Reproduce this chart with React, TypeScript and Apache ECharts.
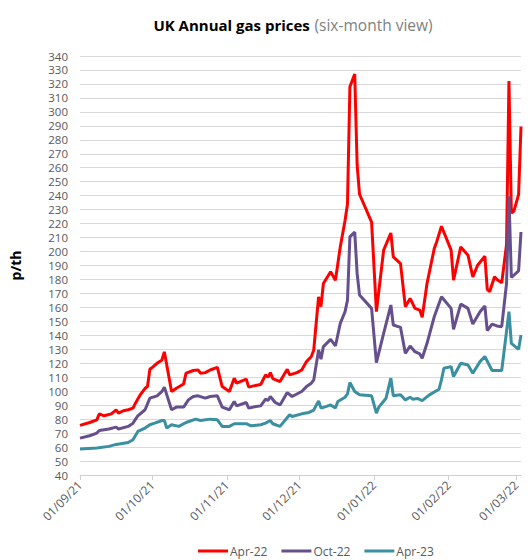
import React, { useEffect, useRef } from "react";
import * as echarts from "echarts";

const seriesNames = ["Apr-22", "Oct-22", "Apr-23"];

const aprDates = [
  "2021-09-01","2021-09-05","2021-09-08","2021-09-09","2021-09-11","2021-09-14","2021-09-16","2021-09-17","2021-09-19","2021-09-21",
  "2021-09-23","2021-09-24","2021-09-26","2021-09-28","2021-09-29","2021-09-30","2021-10-01","2021-10-03","2021-10-05","2021-10-06",
  "2021-10-09","2021-10-11","2021-10-14","2021-10-15","2021-10-18","2021-10-20","2021-10-21","2021-10-23","2021-10-25","2021-10-28",
  "2021-10-30","2021-11-02","2021-11-04","2021-11-05","2021-11-09","2021-11-10","2021-11-12","2021-11-15","2021-11-17","2021-11-18",
  "2021-11-19","2021-11-20","2021-11-23","2021-11-26","2021-11-27","2021-11-30","2021-12-02","2021-12-04","2021-12-06","2021-12-07",
  "2021-12-09","2021-12-10","2021-12-11","2021-12-14","2021-12-16","2021-12-18","2021-12-20","2021-12-21","2021-12-22","2021-12-24",
  "2021-12-25","2021-12-26","2021-12-31","2022-01-02","2022-01-05","2022-01-08","2022-01-09","2022-01-12","2022-01-14","2022-01-16",
  "2022-01-18","2022-01-20","2022-01-21","2022-01-23","2022-01-26","2022-01-27","2022-01-29","2022-02-02","2022-02-03","2022-02-06",
  "2022-02-09","2022-02-11","2022-02-13","2022-02-16","2022-02-17","2022-02-18","2022-02-20","2022-02-21","2022-02-23","2022-02-25",
  "2022-02-26","2022-02-27","2022-02-28","2022-03-02","2022-03-03",
];
const aprValues = [
  75.5,77.6,79.5,83.8,82.4,83.8,86.7,84.3,86,86.7,
  87.9,91.4,97.4,102.1,103.3,115.7,117.1,120,122.4,128.2,
  99.8,102.1,105.2,112.9,114.8,115.2,112.9,113.3,115.2,117.1,
  103.3,99.8,109.3,105.7,108.6,102.9,103.8,104.8,111.7,110,
  113.3,109,106.9,115.7,111.7,113.3,115.2,121.2,124.8,129.5,
  167.6,160.5,177.1,185.5,179.5,203.3,222.4,234,318,327,
  262,241,221,157,201,213.3,196.2,191.4,160.5,166.4,
  159.3,158.1,152.9,177.1,202.1,206.9,218.1,201,179.5,203.3,
  197.4,181.9,190.2,196.7,172.9,171.2,181.9,180,177.6,205,
  322,227.6,228.8,240.7,289.5,
];

const octDates = [
  "2021-09-01","2021-09-05","2021-09-08","2021-09-09","2021-09-13","2021-09-16","2021-09-17","2021-09-21","2021-09-23","2021-09-25",
  "2021-09-28","2021-09-30","2021-10-03","2021-10-05","2021-10-06","2021-10-09","2021-10-11","2021-10-14","2021-10-16","2021-10-18",
  "2021-10-20","2021-10-23","2021-10-25","2021-10-28","2021-10-30","2021-11-02","2021-11-04","2021-11-05","2021-11-09","2021-11-10",
  "2021-11-13","2021-11-15","2021-11-17","2021-11-18","2021-11-19","2021-11-21","2021-11-23","2021-11-26","2021-11-28","2021-12-02",
  "2021-12-04","2021-12-06","2021-12-07","2021-12-09","2021-12-10","2021-12-11","2021-12-14","2021-12-16","2021-12-18","2021-12-20",
  "2021-12-21","2021-12-22","2021-12-24","2021-12-25","2021-12-26","2021-12-31","2022-01-02","2022-01-05","2022-01-08","2022-01-09",
  "2022-01-12","2022-01-14","2022-01-16","2022-01-18","2022-01-20","2022-01-21","2022-01-23","2022-01-26","2022-01-29","2022-02-02",
  "2022-02-03","2022-02-06","2022-02-09","2022-02-11","2022-02-14","2022-02-16","2022-02-17","2022-02-19","2022-02-21","2022-02-23",
  "2022-02-25","2022-02-26","2022-02-27","2022-03-02","2022-03-03",
];
const octValues = [
  66.4,68.1,70,71.9,72.9,74.3,72.9,74.8,77.1,82.4,
  86.7,95,96.7,99.8,102.9,86.7,88.6,88.6,93.8,96.2,
  96.7,95,96.2,96.7,88.6,86.7,92.6,89.5,91.9,87.9,
  89,89.5,94.3,93.3,96.2,91.9,90.2,99,96.2,99.8,
  103.3,105.7,108.1,129.5,122.9,131.9,137.1,132.4,148.6,157,
  165.2,210.5,214,184.3,168.8,159.3,120.5,141.4,161.7,147.4,
  145.7,127.1,132.4,128.3,126.7,123.6,134.3,153.3,167.6,159.3,
  144.3,162.4,159.3,148.1,156.9,161,143.3,148.1,146.7,146.2,
  177.1,239.5,181.4,186.2,214,
];

const apr23Dates = [
  "2021-09-01","2021-09-08","2021-09-13","2021-09-16","2021-09-21","2021-09-23","2021-09-25","2021-09-28","2021-09-30","2021-10-02",
  "2021-10-05","2021-10-06","2021-10-07","2021-10-09","2021-10-12","2021-10-15","2021-10-19","2021-10-21","2021-10-25","2021-10-28",
  "2021-10-30","2021-11-02","2021-11-04","2021-11-09","2021-11-11","2021-11-15","2021-11-17","2021-11-19","2021-11-20","2021-11-23",
  "2021-11-27","2021-11-28","2021-12-02","2021-12-05","2021-12-07","2021-12-09","2021-12-10","2021-12-12","2021-12-14","2021-12-16",
  "2021-12-17","2021-12-20","2021-12-21","2021-12-22","2021-12-24","2021-12-26","2021-12-31","2022-01-02","2022-01-03","2022-01-06",
  "2022-01-08","2022-01-09","2022-01-12","2022-01-14","2022-01-16","2022-01-17","2022-01-19","2022-01-21","2022-01-24","2022-01-28",
  "2022-01-29","2022-01-30","2022-02-02","2022-02-03","2022-02-06","2022-02-09","2022-02-11","2022-02-14","2022-02-16","2022-02-19",
  "2022-02-23","2022-02-26","2022-02-27","2022-03-02","2022-03-03",
];
const apr23Values = [
  58.6,59.3,60.5,61.9,63.3,65.2,71.2,73.6,76,77.1,
  79,79,73.6,76,74.8,77.6,80,79,80,79.5,
  74.8,74.8,76.7,76.7,75.2,76,77.1,79,76.7,74.8,
  83.1,81.9,83.8,84.8,86.5,93,87.9,89,90.2,87.9,
  92.6,95.7,98.1,106.2,99.8,97.4,96.7,84.3,88.6,95,
  109.3,96.7,97.4,93.8,95.7,94.3,94.8,93.3,97.4,101.4,
  108.1,116.4,117.6,110.5,120,118.8,112.9,121.2,124.8,114.8,
  114.8,157,134.3,130,140.2,
];

const yTicksMin = 40;
const yTicksMax = 340;
const yTickStep = 10;

const colors = ["#ff0000", "#664f8d", "#3a8fa0"];
const FONT = "'Open Sans', 'Noto Sans', sans-serif";

function pad(n: number) {
  return n < 10 ? "0" + n : String(n);
}

export default function App() {
  const ref = useRef<HTMLDivElement>(null);
  useEffect(() => {
    if (!ref.current) return;
    const chart = echarts.init(ref.current, null, { renderer: "svg" });
    const zip = (ds: string[], vs: number[]) => ds.map((d, i) => [d, vs[i]]);
    chart.setOption({
      animation: false,
      backgroundColor: "#ffffff",
      textStyle: { fontFamily: FONT },
      title: {
        left: 288,
        top: 11,
        textAlign: "center",
        text: "{b|UK Annual gas prices} {n|(six-month view)}",
        textStyle: {
          rich: {
            b: { fontFamily: FONT, fontWeight: "bold", fontSize: 15, color: "#000000" },
            n: { fontFamily: FONT, fontWeight: "normal", fontSize: 15.5, color: "#7f7f7f" },
          },
        },
      },
      legend: {
        left: 193,
        top: 540,
        icon: "rect",
        itemWidth: 30,
        itemHeight: 3,
        itemGap: 14,
        textStyle: { fontFamily: FONT, fontSize: 12, lineHeight: 12, color: "#595959", padding: [0, 0, 0, -3] },
        data: seriesNames,
      },
      grid: { left: 79, right: 7, top: 56, bottom: 85, containLabel: false },
      xAxis: {
        type: "time",
        min: "2021-09-01",
        max: "2022-03-03",
        splitNumber: 6,
        axisLine: { show: true, lineStyle: { color: "#d0d0d0", width: 1 } },
        axisTick: { show: true, length: 5, lineStyle: { color: "#d0d0d0" } },
        splitLine: { show: false },
        axisLabel: {
          rotate: 45,
          margin: 8,
          fontFamily: FONT,
          fontSize: 12,
          lineHeight: 12,
          color: "#595959",
          showMaxLabel: false,
          formatter: (v: number) => {
            const d = new Date(v);
            return pad(d.getDate()) + "/" + pad(d.getMonth() + 1) + "/" + String(d.getFullYear()).slice(2);
          },
        },
      },
      yAxis: {
        type: "value",
        min: yTicksMin,
        max: yTicksMax,
        interval: yTickStep,
        name: "p/th",
        nameLocation: "middle",
        nameGap: 58,
        nameRotate: 90,
        nameTextStyle: { fontFamily: FONT, fontWeight: "bold", fontSize: 14, color: "#000000" },
        axisLine: { show: false },
        axisTick: { show: false },
        axisLabel: { margin: 12, fontFamily: FONT, fontSize: 11.5, lineHeight: 12, color: "#595959" },
        splitLine: { show: true, lineStyle: { color: "#d9d9d9", width: 1 } },
      },
      series: [
        { name: seriesNames[0], type: "line", data: zip(aprDates, aprValues), color: colors[0], showSymbol: false, lineStyle: { width: 3, color: colors[0] } },
        { name: seriesNames[1], type: "line", data: zip(octDates, octValues), color: colors[1], showSymbol: false, lineStyle: { width: 3, color: colors[1] } },
        { name: seriesNames[2], type: "line", data: zip(apr23Dates, apr23Values), color: colors[2], showSymbol: false, lineStyle: { width: 3, color: colors[2] } },
      ],
    });
    return () => chart.dispose();
  }, []);
  return <div ref={ref} style={{ position: "fixed", left: 0, top: 0, width: 528, height: 560 }} />;
}
